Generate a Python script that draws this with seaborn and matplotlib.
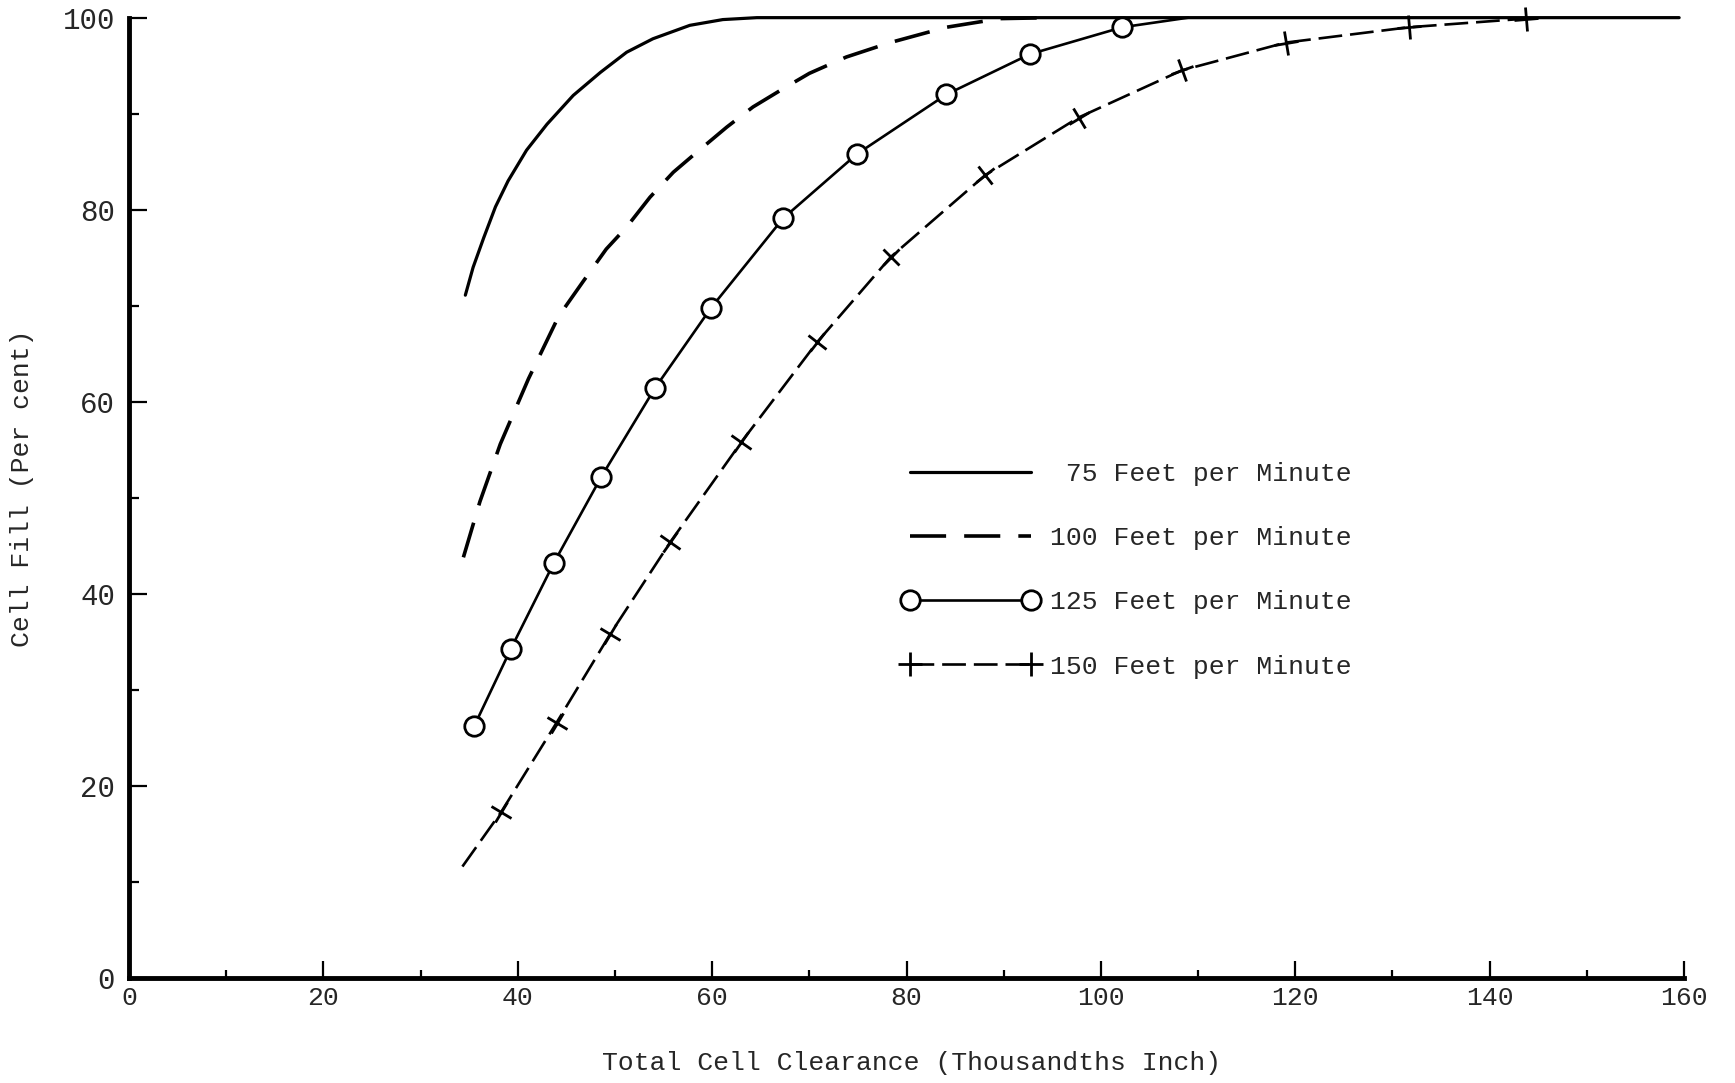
import math
import matplotlib
matplotlib.use("Agg")
import matplotlib.pyplot as plt
from matplotlib.lines import Line2D
from matplotlib.markers import MarkerStyle
from matplotlib.transforms import Affine2D
import seaborn as sns
import numpy as np

# ---- data ----
x_75 = [34.6, 35.4, 36.5, 37.7, 39.0, 40.9, 43.0, 45.7, 48.5, 51.2, 53.9, 57.7, 61.1, 64.6, 100.0, 159.5]
y_75 = [71.1, 74.0, 77.1, 80.3, 83.0, 86.2, 88.9, 91.9, 94.3, 96.4, 97.8, 99.2, 99.8, 100.0, 100.0, 100.0]

x_100 = [34.4, 36.1, 38.2, 41.1, 44.2, 46.7, 49.1, 51.2, 53.6, 56.0, 58.2, 61.5, 64.2,
         67.3, 70.0, 73.8, 78.3, 84.1, 89.6, 95.0]
y_100 = [43.8, 49.6, 55.6, 62.4, 68.9, 72.5, 75.9, 78.2, 81.3, 83.9, 85.8, 88.6, 90.7,
         92.6, 94.2, 95.9, 97.4, 99.0, 99.9, 100.0]

x_125 = [35.5, 39.3, 43.7, 48.6, 54.1, 59.9, 67.3, 74.9, 84.1, 92.7, 102.2, 109.0]
y_125 = [26.2, 34.3, 43.2, 52.2, 61.4, 69.8, 79.1, 85.8, 92.0, 96.2, 99.0, 100.0]

x_150 = [34.3, 38.3, 44.0, 49.5, 55.7, 63.0, 70.8, 78.4, 88.1, 97.7, 108.3, 119.0, 131.7, 143.7]
y_150 = [11.6, 17.3, 26.6, 35.8, 45.4, 55.8, 66.2, 75.1, 83.6, 89.6, 94.5, 97.4, 99.0, 99.9]

labels = [" 75 Feet per Minute", "100 Feet per Minute", "125 Feet per Minute", "150 Feet per Minute"]
x_ticks = [0, 20, 40, 60, 80, 100, 120, 140, 160]
y_ticks = [0, 20, 40, 60, 80, 100]

x_label = "Total Cell Clearance (Thousandths Inch)"
y_label = "Cell Fill (Per cent)"

# ---- style ----
sns.set_theme(style="white")
plt.rcParams["font.family"] = ["Liberation Mono", "DejaVu Sans Mono"]

fig = plt.figure(figsize=(17.35, 10.83), dpi=100)
ax = fig.add_axes([0.0744, 0.097, 0.8962, 0.8867])
ax.set_xlim(0, 160)
ax.set_ylim(0, 100)

common = dict(ax=ax, color="black", estimator=None, sort=False, legend=False)

l1 = sns.lineplot(x=x_75, y=y_75, lw=2.3, linestyle="-", **common).lines[-1]
l1.set_clip_on(False)

l2 = sns.lineplot(x=x_100, y=y_100, lw=2.6, linestyle=(0, (10, 5)), **common).lines[-1]
l2.set_clip_on(False)

l3 = sns.lineplot(x=x_125, y=y_125, lw=1.9, linestyle="-", marker="o", markersize=14,
                  markerfacecolor="white", markeredgecolor="black", markeredgewidth=2.0,
                  markevery=list(range(len(x_125) - 1)), **common).lines[-1]
l3.set_clip_on(False)

l4 = sns.lineplot(x=x_150, y=y_150, lw=1.9, linestyle=(0, (9, 3)), **common).lines[-1]
l4.set_clip_on(False)

# "+" markers of the 150 ft/min series, each turned to follow the curve
pts = ax.transData.transform(np.column_stack([x_150, y_150]))
for i in range(1, len(x_150)):
    j0 = max(i - 1, 0)
    j1 = min(i + 1, len(x_150) - 1)
    dx, dy = pts[j1] - pts[j0]
    ang = math.degrees(math.atan2(dy, dx))
    ms = MarkerStyle("+", transform=Affine2D().rotate_deg(ang))
    ax.plot([x_150[i]], [y_150[i]], linestyle="none", marker=ms, markersize=17,
            markeredgewidth=2.0, color="black", clip_on=False)

ax.set_xticks(x_ticks)
ax.set_yticks(y_ticks)
ax.set_xticks([10, 30, 50, 70, 90, 110, 130, 150], minor=True)
ax.set_yticks([10, 30, 50, 70, 90], minor=True)

for side in ["top", "right"]:
    ax.spines[side].set_visible(False)
for side in ["left", "bottom"]:
    ax.spines[side].set_visible(True)
    ax.spines[side].set_color("black")
    ax.spines[side].set_linewidth(3.5)

ax.tick_params(axis="both", which="both", direction="in", color="black", width=1.6)
ax.tick_params(axis="y", which="major", length=13, pad=10, labelsize=21)
ax.tick_params(axis="y", which="minor", length=7)
ax.tick_params(axis="x", which="major", length=12, pad=6, labelsize=19)
ax.tick_params(axis="x", which="minor", length=6)
ax.tick_params(left=True, bottom=True, which="both")

ax.set_xlabel(x_label, fontsize=19)
ax.set_ylabel(y_label, fontsize=19)
ax.xaxis.set_label_coords(0.503, -0.076)
ax.yaxis.set_label_coords(-0.061, 0.51)

h1 = Line2D([], [], color="black", lw=2.3, linestyle="-")
h2 = Line2D([], [], color="black", lw=2.6, linestyle=(0, (10, 5)))
h3 = Line2D([], [], color="black", lw=1.9, linestyle="-", marker="o", markersize=14,
            markerfacecolor="white", markeredgecolor="black", markeredgewidth=2.0)
h4 = Line2D([], [], color="black", lw=1.9, linestyle=(0, (9, 3)), marker="+", markersize=17,
            markeredgewidth=2.0)

leg = ax.legend(handles=[h1, h2, h3, h4], labels=labels, loc="upper left",
                bbox_to_anchor=(0.497, 0.537),
                frameon=False, fontsize=19, handlelength=5.2, handletextpad=0.4,
                labelspacing=1.52, numpoints=2, borderpad=0, borderaxespad=0)

ax.set_facecolor("white")
fig.patch.set_facecolor("white")
fig.savefig("out.png", dpi=100, facecolor="white")
